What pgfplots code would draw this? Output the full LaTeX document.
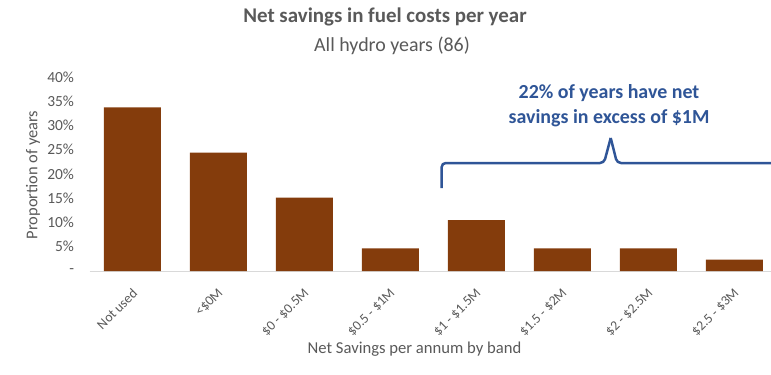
\documentclass[border=0pt]{standalone}
\usepackage{pgfplots}
\pgfplotsset{compat=1.18}
\usepackage{fontspec}
\setmainfont{Carlito}
\definecolor{barc}{HTML}{843C0C}
\definecolor{txt}{HTML}{595959}
\definecolor{ann}{HTML}{2F5597}
\definecolor{axc}{HTML}{D9D9D9}
\begin{document}
\begin{tikzpicture}[x=1bp,y=1bp]
\path[use as bounding box] (0,0) rectangle (771,374);
\begin{axis}[
  at={(89.5bp,103bp)}, anchor=south west,
  scale only axis, width=681bp, height=194bp,
  xmin=-0.5, xmax=7.42, ymin=0, ymax=40,
  axis x line=bottom, axis y line=left,
  x axis line style={draw=axc, line width=1bp, -},
  y axis line style={draw=none},
  major tick length=0pt,
  ytick={0,5,...,40},
  yticklabels={-,5\%,10\%,15\%,20\%,25\%,30\%,35\%,40\%},
  xtick={0,...,7},
  xticklabels={Not used,<\$0M,\$0 - \$0.5M,\$0.5 - \$1M,\$1 - \$1.5M,\$1.5 - \$2M,\$2 - \$2.5M,\$2.5 - \$3M},
  yticklabel style={font=\fontsize{15.5}{18}\selectfont, text=txt, xshift=-12bp},
  xticklabel style={font=\fontsize{13.8}{16}\selectfont, text=txt, xshift=2.5bp, yshift=-20bp, rotate=45, anchor=east, inner sep=0pt},
  ybar, bar width=57bp,
  clip=false,
]
\addplot[fill=barc, draw=none] coordinates {(0,33.72) (1,24.42) (2,15.12) (3,4.65) (4,10.47) (5,4.65) (6,4.65) (7,2.33)};
\end{axis}
\node[text=txt, font=\fontsize{21}{24}\selectfont\bfseries] at (385,357) {Net savings in fuel costs per year};
\node[text=txt, font=\fontsize{20}{23}\selectfont] at (392,328) {All hydro years (86)};
\node[text=txt, font=\fontsize{16.7}{20}\selectfont] at (414.5,25) {Net Savings per annum by band};
\node[text=txt, font=\fontsize{16.5}{20}\selectfont, rotate=90] at (33,199) {Proportion of years};
\node[text=ann, font=\fontsize{20}{25}\selectfont\bfseries, align=center] at (609,268.5) {22\% of years have net\\savings in excess of \$1M};
\draw[ann, line width=2.5bp, rounded corners=4bp] (441.7,186) -- (441.7,211) -- (604,211) -- (610.7,236);
\draw[ann, line width=2.5bp, rounded corners=4bp] (610.7,236) -- (617,211) -- (771,211);
\end{tikzpicture}
\end{document}
